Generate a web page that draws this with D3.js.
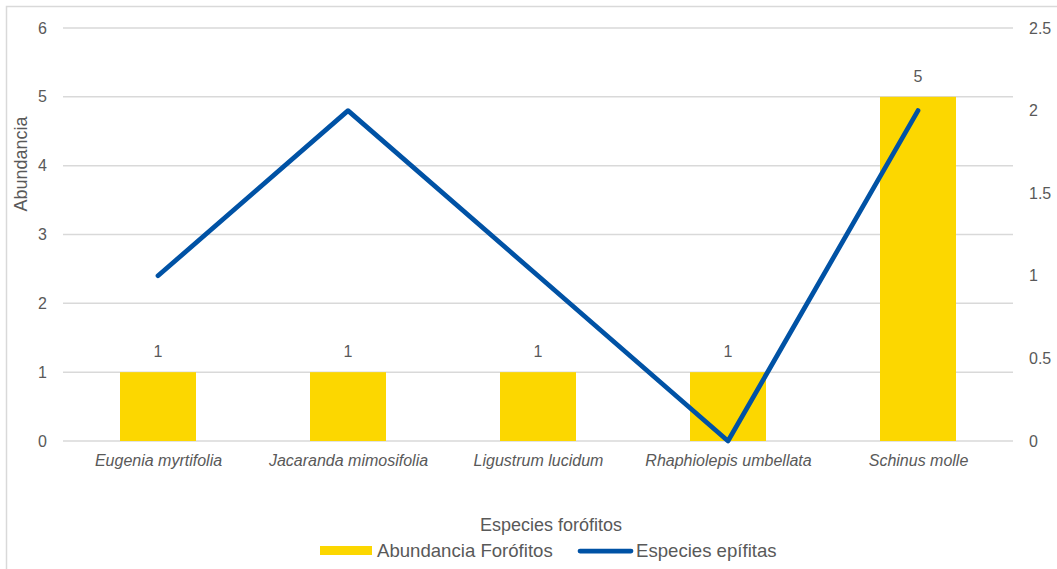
<!DOCTYPE html>
<html><head><meta charset="utf-8">
<script src="https://cdn.jsdelivr.net/npm/d3@7"></script>
<style>body{margin:0;background:#fff;} text{font-family:"Liberation Sans",Arial,sans-serif;}</style>
</head><body>
<svg id="c" width="1057" height="569"></svg>
<script>
const categories = ["Eugenia myrtifolia","Jacaranda mimosifolia","Ligustrum lucidum","Rhaphiolepis umbellata","Schinus molle"];
const abundancia = [1,1,1,1,5];
const epifitas = [1,2,1,0,2];
const leftTicks = [0,1,2,3,4,5,6];
const rightTicks = [0,0.5,1,1.5,2,2.5];

const svg = d3.select("#c");
const W=1057,H=569;
const m={l:63,r:1013,t:28,b:441};
const grey="#595959";
const FF="Liberation Sans, Arial, sans-serif";
svg.append("rect").attr("x",6.5).attr("y",6.5).attr("width",W).attr("height",H).attr("fill","#fff").attr("stroke","#d9d9d9").attr("stroke-width",1.5);

const x=d3.scaleBand().domain(categories).range([m.l,m.r]).paddingInner(0.6).paddingOuter(0.3);
const xc=d3.scalePoint().domain(categories).range([m.l,m.r]).padding(0.5);
const yL=d3.scaleLinear().domain([0,6]).range([m.b,m.t]);
const yR=d3.scaleLinear().domain([0,2.5]).range([m.b,m.t]);

// gridlines
svg.append("g").selectAll("line").data(leftTicks).join("line")
  .attr("x1",m.l).attr("x2",m.r).attr("y1",d=>yL(d)).attr("y2",d=>yL(d))
  .attr("stroke","#d9d9d9").attr("stroke-width",1.5);

// left axis
const gL=svg.append("g").attr("transform",`translate(${m.l},0)`)
  .call(d3.axisLeft(yL).tickValues(leftTicks).tickSize(0).tickPadding(16).tickFormat(d3.format("d")));
gL.select(".domain").remove();
gL.selectAll("text").attr("fill",grey).style("font-size","16px").style("font-family",FF);

const gR=svg.append("g").attr("transform",`translate(${m.r},0)`)
  .call(d3.axisRight(yR).tickValues(rightTicks).tickSize(0).tickPadding(16).tickFormat(d=>String(d)));
gR.select(".domain").remove();
gR.selectAll("text").attr("fill",grey).style("font-size","16px").style("font-family",FF);

// bars
svg.append("g").selectAll("rect").data(categories).join("rect")
  .attr("x",d=>x(d)).attr("width",x.bandwidth())
  .attr("y",(d,i)=>yL(abundancia[i])).attr("height",(d,i)=>yL(0)-yL(abundancia[i]))
  .attr("fill","#FCD700");

// bar labels
svg.append("g").selectAll("text").data(categories).join("text")
  .attr("x",d=>xc(d)).attr("y",(d,i)=>yL(abundancia[i])-15)
  .attr("text-anchor","middle").attr("fill",grey).style("font-size","16px")
  .text((d,i)=>abundancia[i]);

// x axis labels
const gX=svg.append("g").attr("transform",`translate(0,${m.b})`)
  .call(d3.axisBottom(xc).tickSize(0).tickPadding(14));
gX.select(".domain").remove();
gX.selectAll("text").attr("fill",grey).style("font-size","16px").style("font-style","italic").style("font-family",FF);

// line
const line=d3.line().x((d,i)=>xc(categories[i])).y(d=>yR(d));
svg.append("path").datum(epifitas).attr("d",line).attr("fill","none")
  .attr("stroke","#0052A5").attr("stroke-width",4.75).attr("stroke-linejoin","round").attr("stroke-linecap","round");

// axis titles
svg.append("text").attr("x",551).attr("y",531).attr("text-anchor","middle").attr("fill",grey).style("font-size","18px").text("Especies forófitos");
svg.append("text").attr("transform","translate(27,164) rotate(-90)").attr("text-anchor","middle").attr("fill",grey).style("font-size","18px").text("Abundancia");

// legend
const lg=svg.append("g");
lg.append("rect").attr("x",320).attr("y",546).attr("width",52).attr("height",9).attr("fill","#FCD700");
lg.append("text").attr("x",377).attr("y",557).attr("fill",grey).style("font-size","18.6px").text("Abundancia Forófitos");
lg.append("line").attr("x1",580).attr("x2",631).attr("y1",551).attr("y2",551).attr("stroke","#0052A5").attr("stroke-width",4.75).attr("stroke-linecap","round");
lg.append("text").attr("x",636).attr("y",557).attr("fill",grey).style("font-size","18.6px").text("Especies epífitas");
</script>
</body></html>
